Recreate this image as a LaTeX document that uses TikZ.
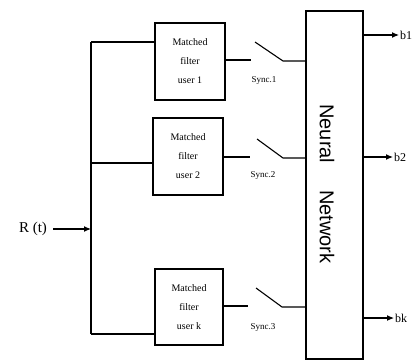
\documentclass[tikz,border=0pt]{standalone}
\usepackage{fontspec}
\setmainfont{Liberation Serif}
\newfontfamily\nnfont{Liberation Sans}
\usetikzlibrary{arrows.meta}
\tikzset{
  wire/.style={line width=1.1pt},
  arr/.style={wire,-{Latex[length=7pt,width=6pt]}},
  mfbox/.style={draw,line width=1.2pt,align=center,inner sep=0pt,
    font=\fontsize{10}{19}\selectfont},
  nnbox/.style={draw,line width=1.2pt,inner sep=0pt},
  synclbl/.style={font=\fontsize{9}{10}\selectfont,inner sep=1pt},
  outlbl/.style={font=\fontsize{12}{13}\selectfont,inner sep=1pt,anchor=west},
}
\begin{document}
\begin{tikzpicture}[x=1pt,y=-1pt]
\useasboundingbox (0,0) rectangle (417,361);
% matched filter boxes
\node[mfbox,minimum width=70pt,minimum height=77pt] (m1) at (190,61.5) {Matched\\filter\\user 1};
\node[mfbox,minimum width=70pt,minimum height=77pt] (m2) at (188,156.5) {Matched\\filter\\user 2};
\node[mfbox,minimum width=68pt,minimum height=76pt] (m3) at (189,307) {Matched\\filter\\user k};
% neural network
\node[nnbox,minimum width=57pt,minimum height=348pt] (nn) at (334.5,185) {};
\node[rotate=-90,font=\nnfont\fontsize{20}{22}\selectfont,inner sep=0pt] (nnt) at (327,184) {Neural\hspace*{27pt}Network};
% input
\node[font=\fontsize{15}{16}\selectfont,inner sep=2pt] (rt) at (33,229) {R (t)};
\coordinate (bt) at (91,42);
\coordinate (bm) at (91,163);
\coordinate (bb) at (91,334);
\coordinate (bin) at (91,229);
\draw[arr] (rt.east) ++(4,0) -- (bin);
\draw[wire] (bt) -- (bb);
\draw[wire] (bt) -- (bt -| m1.west);
\draw[wire] (bm) -- (bm -| m2.west);
\draw[wire] (bb) -- (bb -| m3.west);
% switch 1
\coordinate (s1a) at (251,60);
\coordinate (s1b) at (255,42);
\coordinate (s1c) at (283,61);
\draw[wire] (s1a -| m1.east) -- (s1a);
\draw[wire] (s1b) -- (s1c) -- (s1c -| nn.west);
\node[synclbl] (y1) at (264,80) {Sync.1};
% switch 2
\coordinate (s2a) at (250,157);
\coordinate (s2b) at (257,139);
\coordinate (s2c) at (283,158);
\draw[wire] (s2a -| m2.east) -- (s2a);
\draw[wire] (s2b) -- (s2c) -- (s2c -| nn.west);
\node[synclbl] (y2) at (263,175) {Sync.2};
% switch 3
\coordinate (s3a) at (248,306);
\coordinate (s3b) at (256,288);
\coordinate (s3c) at (282,307);
\draw[wire] (s3a -| m3.east) -- (s3a);
\draw[wire] (s3b) -- (s3c) -- (s3c -| nn.west);
\node[synclbl] (y3) at (263,327) {Sync.3};
% outputs
\node[outlbl] (o1) at (399,35) {b1};
\node[outlbl] (o2) at (393,157) {b2};
\node[outlbl] (o3) at (394,318) {bk};
\draw[arr] (o1.west -| nn.east) -- (o1.west);
\draw[arr] (o2.west -| nn.east) -- (o2.west);
\draw[arr] (o3.west -| nn.east) -- (o3.west);
\end{tikzpicture}
\end{document}
